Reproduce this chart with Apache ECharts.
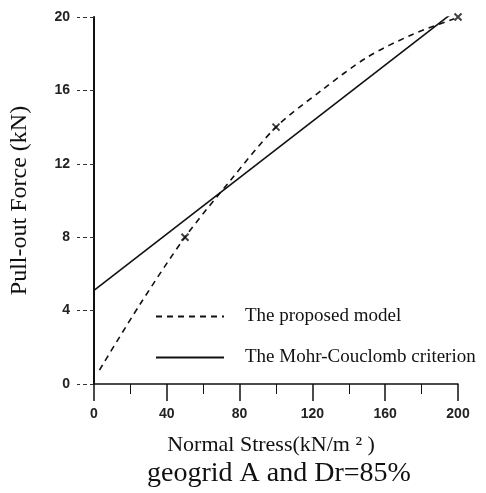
<!DOCTYPE html>
<html>
<head>
<meta charset="utf-8">
<script src="https://cdn.jsdelivr.net/npm/echarts@6/dist/echarts.min.js"></script>
<style>
  html, body { margin: 0; padding: 0; background: #fff; }
  #chart { width: 486px; height: 493px; }
</style>
</head>
<body>
<div id="chart"></div>
<script>
// normal stress (kN/m2) and pull-out force (kN)
var modelStress = [3, 25, 50, 75, 100, 125, 150, 175, 198];
var modelForce = [0.76, 4.3, 8.0, 11.1, 14.0, 16.0, 17.8, 19.05, 19.9];
var mcStress = [0, 198];
var mcForce = [5.1, 20.3];
var testStress = [50, 100, 200];
var testForce = [8, 14, 20];
var xTicks = [0, 40, 80, 120, 160, 200];
var yTicks = [0, 4, 8, 12, 16, 20];

function pairs(xs, ys) {
    return xs.map(function (x, i) { return [x, ys[i]]; });
}

var serif = '"Liberation Serif", "DejaVu Serif", serif';
var sans = '"Liberation Sans", Arial, sans-serif';

var chart = echarts.init(document.getElementById('chart'));
chart.setOption({
    animation: false,
    backgroundColor: '#fff',
    grid: { left: 92, right: 28, top: 17, bottom: 109 },
    title: {
        text: 'geogrid A and Dr=85%',
        left: 274, top: 455, textAlign: 'center',
        textStyle: { fontFamily: serif, fontSize: 28, fontWeight: 'normal', color: '#111' }
    },
    legend: {
        orient: 'vertical',
        left: 150, top: 302,
        itemWidth: 68, itemHeight: 12, itemGap: 22,
        itemStyle: { opacity: 0 },
        textStyle: { fontFamily: serif, fontSize: 19, color: '#111', padding: [0, 0, 0, 16] },
        data: ['The proposed model', 'The Mohr-Couclomb criterion']
    },
    xAxis: {
        type: 'value', min: 0, max: 200, interval: 40,
        name: 'Normal Stress(kN/m \u00b2 )',
        nameLocation: 'middle', nameGap: 50,
        nameTextStyle: { fontFamily: serif, fontSize: 22, color: '#111', padding: [0, 10, 0, 0] },
        axisLine: { lineStyle: { color: '#111', width: 1.5 } },
        axisTick: { show: true, length: 17, lineStyle: { color: '#111', width: 1.5 } },
        minorTick: { show: true, splitNumber: 2, length: 10, lineStyle: { color: '#111', width: 1 } },
        splitLine: { show: false },
        axisLabel: {
            margin: 23, fontFamily: sans, fontSize: 14, fontWeight: 'bold', color: '#222',
            formatter: function (v) { return xTicks.indexOf(v) >= 0 ? String(v) : ''; }
        }
    },
    yAxis: {
        type: 'value', min: 0, max: 20, interval: 4,
        name: 'Pull-out Force (kN)',
        nameLocation: 'middle', nameGap: 62,
        nameTextStyle: { fontFamily: serif, fontSize: 24, color: '#111' },
        axisLine: { lineStyle: { color: '#111', width: 2 } },
        axisTick: { show: true, length: 17, lineStyle: { color: '#333', width: 1, type: [4, 3] } },
        splitLine: { show: false },
        axisLabel: {
            margin: 24, fontFamily: sans, fontSize: 14, fontWeight: 'bold', color: '#222',
            formatter: function (v) { return yTicks.indexOf(v) >= 0 ? String(v) : ''; }
        }
    },
    series: [
        {
            name: 'The proposed model',
            type: 'line', smooth: 0.3, showSymbol: false, symbol: 'none',
            data: pairs(modelStress, modelForce),
            itemStyle: { color: '#111' },
            lineStyle: { color: '#111', width: 1.6, type: [6, 5] }
        },
        {
            name: 'The Mohr-Couclomb criterion',
            type: 'line', showSymbol: false, symbol: 'none',
            data: pairs(mcStress, mcForce),
            itemStyle: { color: '#111' },
            lineStyle: { color: '#111', width: 1.6 }
        },
        {
            name: 'tests',
            type: 'scatter',
            symbol: 'path://M0,0L10,10M10,0L0,10',
            symbolSize: 7,
            data: pairs(testStress, testForce),
            itemStyle: { color: 'transparent', borderColor: '#111', borderWidth: 2 }
        }
    ]
});
</script>
</body>
</html>
